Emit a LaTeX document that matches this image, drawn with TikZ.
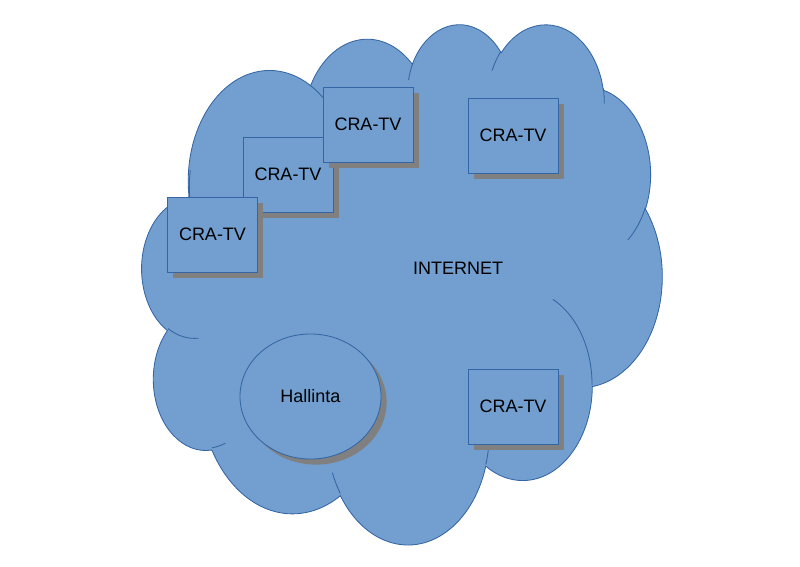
\documentclass[tikz,border=0pt]{standalone}
\usepackage{fontspec}
\setmainfont{Liberation Sans}
\usetikzlibrary{shapes.geometric,shadows}
\definecolor{cloudblue}{HTML}{729FCF}
\definecolor{cloudline}{HTML}{3465A4}
\definecolor{shadowgray}{HTML}{808080}
\tikzset{
  shade/.style={drop shadow={shadow xshift=.14cm, shadow yshift=-.14cm, fill=shadowgray, opacity=1}},
  tvbox/.style={draw=cloudline, fill=cloudblue, line width=.6pt, minimum width=2.25cm, minimum height=1.875cm, inner sep=0pt, shade, font=\fontsize{12.8}{15}\selectfont},
  hallbox/.style={ellipse, draw=cloudline, fill=cloudblue, line width=.6pt, minimum width=3.525cm, minimum height=3.125cm, inner sep=0pt, shade, font=\fontsize{12.8}{15}\selectfont}
}
\newcommand\cloudarc[4]{arc[x radius=#1, y radius=#2, start angle={atan2(#1*sin(#3),#2*cos(#3))}, delta angle={Mod(atan2(#1*sin(#3+#4),#2*cos(#3+#4))-atan2(#1*sin(#3),#2*cos(#3)),360)}]}
\begin{document}
\begin{tikzpicture}[x=0.025cm, y=-0.025cm]
\useasboundingbox (0,0) rectangle (800,566);
\begin{scope}[shift={(142,23)}, x=0.030093cm, y=-0.030093cm]
\filldraw[draw=cloudline, fill=cloudblue, line width=.6pt] (39,143.7)
 \cloudarc{67.53}{91.90}{-190.4875}{123.7805}
 \cloudarc{53.33}{72.67}{-144.1024}{89.9452}
 \cloudarc{43.65}{59.45}{-145.8079}{99.7230}
 \cloudarc{48.57}{65.95}{-130.9861}{117.2417}
 \cloudarc{53.33}{72.73}{-78.7089}{109.0269}
 \cloudarc{67.75}{92.20}{-46.2673}{130.2690}
 \cloudarc{57.85}{78.67}{0.6250}{114.0333}
 \cloudarc{67.52}{92.15}{22.4516}{115.1726}
 \cloudarc{77.20}{105.43}{66.2426}{75.7110}
 \cloudarc{43.60}{59.18}{-274.9421}{146.7356}
 \cloudarc{43.45}{59.45}{-246.8285}{152.5189} -- cycle;
\draw[cloudline, line width=.6pt]
 (46.93,261.77) \cloudarc{43.45}{59.45}{86.7420}{26.4295}
 (69.28,348.99) \cloudarc{43.60}{59.18}{73.6105}{11.4475}
 (164.78,390.90) \cloudarc{67.52}{92.15}{137.6242}{14.0811}
 (288.27,347.51) \cloudarc{67.52}{92.15}{6.4533}{15.9984}
 (341.29,229.54) \cloudarc{57.85}{78.67}{-70.2924}{70.9174}
 (417.98,153.54) \cloudarc{53.33}{72.73}{30.3180}{27.7515}
 (383.24,54.26) \cloudarc{48.57}{65.95}{-13.7443}{14.8589}
 (290.78,39.52) \cloudarc{48.57}{65.95}{-149.1815}{18.1954}
 (221.41,47.20) \cloudarc{43.65}{59.45}{-163.4943}{17.6864}
 (140.00,51.92) \cloudarc{67.53}{91.90}{-66.7070}{12.3194}
 (41.27,157.89) \cloudarc{67.53}{91.90}{161.5012}{29.9709};
\end{scope}
\node[tvbox] (tv2) at (288,174.5) {CRA-TV};
\node[tvbox] (tv1) at (368,124.5) {CRA-TV};
\node[tvbox] (tv3) at (212.5,234.5) {CRA-TV};
\node[tvbox] (tv4) at (513,135.5) {CRA-TV};
\node[tvbox] (tv5) at (513,406.5) {CRA-TV};
\node[hallbox] (hallinta) at (310.5,396.5) {Hallinta};
\node[font=\fontsize{12.8}{15}\selectfont] (internet) at (458,268.5) {INTERNET};
\end{tikzpicture}
\end{document}
